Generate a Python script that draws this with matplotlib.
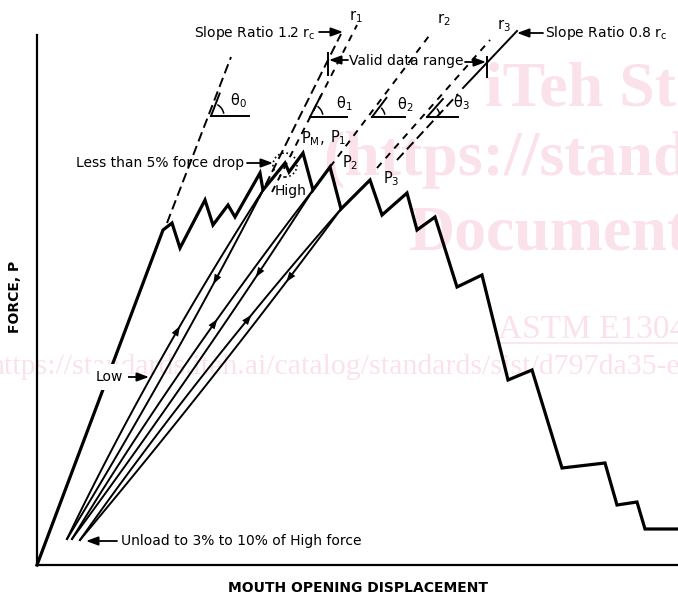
import numpy as np
import matplotlib.pyplot as plt
from matplotlib.patches import Arc, Circle

# load record: mouth opening displacement vs force (drawing units)
disp = [0, 126, 135, 143, 168, 176, 191, 198, 223, 226, 248, 252, 266, 276, 293,
        304, 333, 345, 370, 380, 398, 420, 445, 471, 495, 525, 568, 580, 600, 608, 641]
force = [0, 335, 342, 317, 365, 340, 360, 348, 392, 375, 402, 393, 412, 375, 398,
         356, 385, 350, 372, 335, 348, 278, 290, 185, 195, 97, 102, 60, 63, 36, 36]

# unload / reload loops: index of the start point on the record, and the unload tip
loop_start = [9, 13, 15]
tip_disp = [30, 35, 43]
tip_force = [26, 26, 25]
arrow_up_t = [0.61, 0.63, 0.68]
arrow_dn_t = [0.73, 0.75, 0.78]

# slope lines (start, end)
theta0_line = [(130, 342), (194, 508)]
rc12_line = [(222, 367), (304, 531)]
r1_line = [(235, 373), (320, 540)]
r2_line = [(293, 398), (395, 533)]
r3_line = [(340, 397), (453, 525)]
rc08_dash = [(360, 405), (421, 471)]
rc08_solid = [(426, 477), (480, 534)]

# angle markers: corner, horizontal length, label
ang_corner = [(174, 449), (273, 448), (335, 448), (390, 448)]
ang_len = [38, 37, 33, 31]
ang_lines = [theta0_line, r1_line, r2_line, r3_line]
ang_labels = [r'θ$_\mathregular{0}$', r'θ$_\mathregular{1}$', r'θ$_\mathregular{2}$', r'θ$_\mathregular{3}$']
ang_label_pos = [(201, 464), (307, 461), (368, 460), (424, 462)]

fig = plt.figure(figsize=(6.78, 5.98), dpi=100)
ax = fig.add_axes([0, 0, 1, 1])
ax.set_xlim(-37, 641)
ax.set_ylim(-33, 565)
for s in ['top', 'right']:
    ax.spines[s].set_visible(False)
ax.spines['left'].set_position(('data', 0))
ax.spines['bottom'].set_position(('data', 0))
ax.spines['left'].set_bounds(0, 530)
ax.spines['bottom'].set_bounds(0, 641)
ax.spines['left'].set_linewidth(1.6)
ax.spines['bottom'].set_linewidth(1.6)
ax.set_xticks([])
ax.set_yticks([])

# watermark
wm = '#fbe2ea'
ax.text(448, 460, 'iTeh Sta', family='Liberation Serif', weight='bold', fontsize=46, color=wm, zorder=0)
ax.text(286, 390, '(https://stand', family='Liberation Serif', weight='bold', fontsize=46, color=wm, zorder=0)
ax.text(372, 315, 'Document', family='Liberation Serif', weight='bold', fontsize=46, color=wm, zorder=0)
ax.text(461, 227, 'ASTM E1304-', family='Liberation Serif', fontsize=24, color=wm, zorder=0)
ax.plot([461, 641], [222, 222], color=wm, lw=1.2, zorder=0)
ax.text(643, 191, 'https://standards.iteh.ai/catalog/standards/sist/d797da35-e', ha='right',
        family='Liberation Serif', fontsize=21.5, color=wm, zorder=0)

# main record
ax.plot(disp, force, color='k', lw=2.3, solid_joinstyle='miter', zorder=3)


def bez(p0, p2, off, t):
    p0 = np.array(p0, float)
    p2 = np.array(p2, float)
    c = (p0 + p2) / 2 + np.array([off, 0])
    t = np.atleast_1d(t)[:, None]
    return (1 - t) ** 2 * p0 + 2 * (1 - t) * t * c + t ** 2 * p2


arrow_kw = dict(arrowstyle='-|>,head_length=0.6,head_width=0.22', color='k', lw=0,
                mutation_scale=12, shrinkA=0, shrinkB=0)
tt = np.linspace(0, 1, 100)
for i in range(3):
    top = (disp[loop_start[i]], force[loop_start[i]])
    tip = (tip_disp[i], tip_force[i])
    left = bez(tip, top, -14, tt)
    right = bez(tip, top, 8, tt)
    ax.plot(left[:, 0], left[:, 1], color='k', lw=1.4, zorder=2)
    ax.plot(right[:, 0], right[:, 1], color='k', lw=1.4, zorder=2)
    a = bez(tip, top, -14, [arrow_up_t[i] - 0.04, arrow_up_t[i]])
    ax.annotate('', xy=a[1], xytext=a[0], arrowprops=arrow_kw)
    b = bez(tip, top, 8, [arrow_dn_t[i] + 0.04, arrow_dn_t[i]])
    ax.annotate('', xy=b[1], xytext=b[0], arrowprops=arrow_kw)

# slope lines
long_dash = (0, (5, 2.5))
short_dash = (0, (3.5, 3.2))
for ln, ls in [(theta0_line, long_dash), (rc12_line, long_dash), (rc08_dash, long_dash),
               (r1_line, short_dash), (r2_line, short_dash), (r3_line, short_dash)]:
    ax.plot([ln[0][0], ln[1][0]], [ln[0][1], ln[1][1]], color='k', lw=1.4, ls=ls, zorder=2)
ax.plot([rc08_solid[0][0], rc08_solid[1][0]], [rc08_solid[0][1], rc08_solid[1][1]], color='k', lw=1.4)

# angle markers
for c, L, ln, lab, lp in zip(ang_corner, ang_len, ang_lines, ang_labels, ang_label_pos):
    ang = np.degrees(np.arctan2(ln[1][1] - ln[0][1], ln[1][0] - ln[0][0]))
    ax.plot([c[0], c[0] + L], [c[1], c[1]], color='k', lw=1.4)
    ax.plot([c[0], c[0] + 24 * np.cos(np.radians(ang))], [c[1], c[1] + 24 * np.sin(np.radians(ang))],
            color='k', lw=1.4)
    ax.add_patch(Arc(c, 26, 26, theta1=10, theta2=ang - 8, color='k', lw=1.1))
    ax.text(lp[0], lp[1], lab, fontsize=10.5, ha='center', va='center')

# valid data range
ax.plot([291, 291], [490, 512], color='k', lw=1.4)
ax.plot([450, 450], [488, 508], color='k', lw=1.4)
ax.text(369, 504, 'Valid data range', fontsize=10, ha='center', va='center')
lbl_arrow = dict(arrowstyle='-|>,head_length=0.6,head_width=0.22', color='k', lw=1.3,
                 mutation_scale=12, shrinkA=0, shrinkB=0)
ax.annotate('', xy=(292, 505), xytext=(311, 505), arrowprops=lbl_arrow)
ax.annotate('', xy=(449, 503), xytext=(428, 503), arrowprops=lbl_arrow)

# slope ratio labels
ax.text(279, 532, r'Slope Ratio 1.2 r$_\mathregular{c}$', fontsize=10, ha='right', va='center')
ax.annotate('', xy=(306, 533), xytext=(282, 533), arrowprops=lbl_arrow)
ax.text(508, 532, r'Slope Ratio 0.8 r$_\mathregular{c}$', fontsize=10, ha='left', va='center')
ax.annotate('', xy=(480, 532), xytext=(506, 532), arrowprops=lbl_arrow)
ax.text(319, 548, r'r$_\mathregular{1}$', fontsize=10.5, ha='center', va='center')
ax.text(407, 545, r'r$_\mathregular{2}$', fontsize=10.5, ha='center', va='center')
ax.text(467, 539, r'r$_\mathregular{3}$', fontsize=10.5, ha='center', va='center')

# peak labels
ax.text(264, 422, r'P$_\mathregular{M}$,', fontsize=10.5, va='baseline')
ax.text(293, 423, r'P$_\mathregular{1}$', fontsize=10.5, va='baseline')
ax.text(305, 398, r'P$_\mathregular{2}$', fontsize=10.5, va='baseline')
ax.text(346, 382, r'P$_\mathregular{3}$', fontsize=10.5, va='baseline')

# force drop
ax.text(207, 402, 'Less than 5% force drop', fontsize=10, ha='right', va='center')
ax.annotate('', xy=(236, 402), xytext=(210, 402), arrowprops=lbl_arrow)
ax.add_patch(Circle((248, 400), 12, fill=False, ls=(0, (1, 1.6)), lw=1.2, color='k'))
ax.text(254, 374, 'High', fontsize=10, ha='center', va='center')

# low / unload
ax.text(72, 188, 'Low', fontsize=10, ha='center', va='center', zorder=4,
        bbox=dict(fc='white', ec='none', pad=4))
ax.annotate('', xy=(112, 188), xytext=(89, 188), arrowprops=lbl_arrow)
ax.text(84, 24, 'Unload to 3% to 10% of High force', fontsize=10, ha='left', va='center')
ax.annotate('', xy=(49, 24), xytext=(80, 24), arrowprops=lbl_arrow)

# axis titles
ax.text(-22, 268, 'FORCE, P', fontsize=10, weight='bold', rotation=90, ha='center', va='center')
ax.text(321, -23, 'MOUTH OPENING DISPLACEMENT', fontsize=10, weight='bold', ha='center', va='center')

fig.savefig('out.png', dpi=100)
